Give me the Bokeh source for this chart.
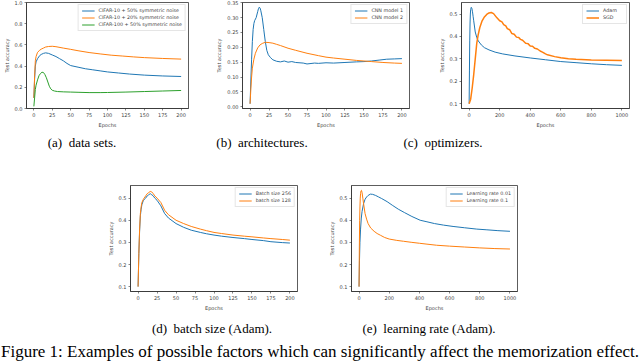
from bokeh.plotting import figure
from bokeh.models import FixedTicker, PrintfTickFormatter, Div, Spacer, Range1d
from bokeh.layouts import row, column
from bokeh.embed import file_html
from bokeh.resources import INLINE

BLUE, ORANGE, GREEN = "#1f77b4", "#ff7f0e", "#2ca02c"

# ---------------- (a) data sets ----------------
a_blue_x = [0, 1, 2, 3, 5, 8, 10, 13, 16, 20, 25, 30, 35, 40, 45, 50, 60, 70, 80, 90, 100, 115, 130, 150, 175, 200]
a_blue_y = [0.10, 0.28, 0.40, 0.44, 0.47, 0.50, 0.51, 0.52, 0.525, 0.52, 0.505, 0.49, 0.47, 0.45, 0.425, 0.405, 0.39, 0.375, 0.365, 0.355, 0.345, 0.335, 0.325, 0.315, 0.307, 0.302]
a_orange_x = [0, 1, 2, 3, 5, 8, 10, 13, 16, 20, 25, 30, 40, 50, 60, 75, 90, 105, 120, 135, 150, 175, 200]
a_orange_y = [0.10, 0.30, 0.45, 0.49, 0.53, 0.55, 0.56, 0.57, 0.58, 0.585, 0.587, 0.583, 0.57, 0.558, 0.545, 0.528, 0.515, 0.503, 0.495, 0.487, 0.48, 0.472, 0.466]
a_green_x = [0, 1, 2, 3, 5, 7, 9, 11, 13, 15, 17, 19, 21, 23, 25, 28, 32, 40, 50, 60, 75, 90, 100, 125, 150, 175, 200]
a_green_y = [0.02, 0.10, 0.18, 0.22, 0.27, 0.31, 0.33, 0.342, 0.34, 0.32, 0.29, 0.25, 0.21, 0.185, 0.172, 0.165, 0.16, 0.157, 0.155, 0.153, 0.15, 0.15, 0.151, 0.155, 0.16, 0.165, 0.17]
a_labels = ["CIFAR-10 + 50% symmetric noise", "CIFAR-10 + 20% symmetric noise", "CIFAR-100 + 50% symmetric noise"]

# ---------------- (b) architectures ----------------
b_blue_x = [0, 1, 2, 3, 4, 5, 6, 8, 10, 11, 12, 13, 14, 16, 18, 20, 22, 24, 27, 30, 35, 40, 45, 50, 55, 60, 70, 75, 85, 90, 100, 110, 125, 140, 150, 160, 170, 180, 190, 200]
b_blue_y = [0.01, 0.09, 0.16, 0.22, 0.26, 0.28, 0.29, 0.30, 0.32, 0.33, 0.335, 0.333, 0.325, 0.30, 0.26, 0.22, 0.19, 0.175, 0.165, 0.158, 0.153, 0.151, 0.154, 0.150, 0.152, 0.149, 0.147, 0.144, 0.147, 0.146, 0.148, 0.147, 0.149, 0.151, 0.152, 0.154, 0.157, 0.160, 0.161, 0.162]
b_orange_x = [0, 1, 2, 3, 5, 7, 10, 13, 16, 20, 25, 30, 35, 40, 50, 60, 75, 90, 100, 110, 125, 140, 150, 160, 175, 190, 200]
b_orange_y = [0.01, 0.06, 0.10, 0.13, 0.16, 0.18, 0.198, 0.208, 0.213, 0.217, 0.216, 0.214, 0.21, 0.206, 0.197, 0.19, 0.18, 0.172, 0.167, 0.164, 0.16, 0.156, 0.154, 0.152, 0.149, 0.147, 0.146]
b_labels = ["CNN model 1", "CNN model 2"]

# ---------------- (c) optimizers ----------------
c_adam_x = [0, 2, 4, 6, 8, 10, 14, 18, 22, 26, 30, 40, 50, 60, 80, 100, 130, 170, 220, 300, 400, 500, 600, 700, 800, 900, 1000]
c_adam_y = [0.10, 0.25, 0.38, 0.46, 0.50, 0.52, 0.53, 0.525, 0.51, 0.49, 0.47, 0.42, 0.395, 0.38, 0.362, 0.35, 0.34, 0.33, 0.322, 0.313, 0.304, 0.296, 0.288, 0.283, 0.278, 0.274, 0.271]
c_sgd_x = [0, 10, 20, 30, 40, 50, 60, 70, 85, 100, 115, 130, 145, 160, 182, 200, 215, 226, 240, 250, 265, 280, 295, 310, 325, 336, 350, 370, 385, 400, 415, 430, 447, 465, 480, 500, 513, 560, 600, 650, 700, 800, 900, 1000]
c_sgd_y = [0.10, 0.12, 0.17, 0.23, 0.30, 0.37, 0.41, 0.44, 0.47, 0.487, 0.498, 0.505, 0.507, 0.502, 0.483, 0.47, 0.465, 0.453, 0.447, 0.435, 0.43, 0.413, 0.41, 0.397, 0.395, 0.387, 0.383, 0.37, 0.368, 0.357, 0.356, 0.347, 0.344, 0.335, 0.33, 0.322, 0.318, 0.31, 0.305, 0.30, 0.298, 0.295, 0.294, 0.293]
c_labels = ["Adam", "SGD"]

# ---------------- (d) batch size ----------------
d_x = [0, 1, 2, 3, 4, 5, 7, 10, 12, 14, 16, 18, 20, 22, 25, 30, 35, 40, 50, 60, 70, 82, 90, 100, 110, 125, 140, 150, 165, 175, 190, 200]
d_blue_y = [0.10, 0.25, 0.35, 0.42, 0.45, 0.47, 0.49, 0.50, 0.51, 0.515, 0.52, 0.515, 0.51, 0.50, 0.49, 0.465, 0.43, 0.41, 0.385, 0.368, 0.355, 0.345, 0.339, 0.333, 0.328, 0.322, 0.317, 0.313, 0.308, 0.303, 0.299, 0.297]
d_orange_y = [0.10, 0.25, 0.36, 0.43, 0.46, 0.48, 0.495, 0.51, 0.52, 0.525, 0.53, 0.528, 0.52, 0.51, 0.50, 0.48, 0.445, 0.425, 0.40, 0.385, 0.372, 0.36, 0.353, 0.345, 0.34, 0.333, 0.328, 0.325, 0.32, 0.317, 0.313, 0.31]
d_labels = ["Batch size 256", "batch size 128"]

# ---------------- (e) learning rate ----------------
e_blue_x = [0, 3, 6, 10, 15, 20, 30, 40, 50, 60, 75, 90, 110, 130, 150, 186, 220, 260, 300, 350, 405, 450, 500, 560, 623, 700, 780, 842, 920, 1000]
e_blue_y = [0.10, 0.22, 0.30, 0.36, 0.41, 0.44, 0.475, 0.495, 0.505, 0.512, 0.518, 0.517, 0.512, 0.505, 0.498, 0.484, 0.468, 0.45, 0.435, 0.417, 0.40, 0.393, 0.385, 0.378, 0.372, 0.366, 0.36, 0.357, 0.353, 0.35]
e_orange_x = [0, 2, 4, 6, 8, 10, 13, 16, 20, 25, 30, 40, 50, 60, 77, 100, 120, 142, 170, 200, 250, 295, 350, 400, 450, 514, 600, 700, 800, 900, 1000]
e_orange_y = [0.10, 0.28, 0.40, 0.46, 0.50, 0.52, 0.533, 0.535, 0.525, 0.50, 0.475, 0.43, 0.405, 0.385, 0.365, 0.35, 0.34, 0.332, 0.322, 0.315, 0.309, 0.305, 0.30, 0.296, 0.292, 0.287, 0.283, 0.279, 0.275, 0.272, 0.27]
e_labels = ["Learning rate 0.01", "Learning rate 0.1"]

ticks200 = [0, 25, 50, 75, 100, 125, 150, 175, 200]
ticks1000 = [0, 200, 400, 600, 800, 1000]

captions_top = ["(a)&nbsp; data sets.", "(b)&nbsp; architectures.", "(c)&nbsp; optimizers."]
captions_bottom = ["(d)&nbsp; batch size (Adam).", "(e)&nbsp; learning rate (Adam)."]
fig_caption = "Figure 1: Examples of possible factors which can significantly affect the memorization effect."

TICKFONT = "DejaVu Sans"


def make_fig(xr, yr, xticks, yticks, yfmt, w, h, bl, br, bt, bb):
    p = figure(width=w, height=h,
               min_border_left=bl, min_border_right=br, min_border_top=bt, min_border_bottom=bb,
               x_range=Range1d(*xr), y_range=Range1d(*yr),
               output_backend="svg", toolbar_location=None)
    p.xgrid.visible = False
    p.ygrid.visible = False
    p.outline_line_color = "#333333"
    p.outline_line_width = 0.8
    p.background_fill_color = "white"
    p.border_fill_color = "white"
    for ax in (p.xaxis[0], p.yaxis[0]):
        ax.axis_line_color = "#333333"
        ax.axis_line_width = 0.8
        ax.major_tick_out = 2
        ax.major_tick_in = 0
        ax.major_tick_line_color = "#333333"
        ax.major_tick_line_width = 0.6
        ax.minor_tick_line_color = None
        ax.major_label_text_font = TICKFONT
        ax.major_label_text_font_size = "5px"
        ax.major_label_text_color = "#444444"
        ax.major_label_standoff = 2
        ax.axis_label_text_font = TICKFONT
        ax.axis_label_text_font_size = "5px"
        ax.axis_label_text_font_style = "normal"
        ax.axis_label_text_color = "#444444"
        ax.axis_label_standoff = 2
    p.xaxis.ticker = FixedTicker(ticks=xticks)
    p.yaxis.ticker = FixedTicker(ticks=yticks)
    p.yaxis.formatter = PrintfTickFormatter(format=yfmt)
    p.xaxis.axis_label = "Epochs"
    p.yaxis.axis_label = "Test accuracy"
    return p


def style_legend(p):
    lg = p.legend[0]
    lg.location = "top_right"
    lg.margin = 2
    lg.padding = 3
    lg.spacing = 2
    lg.label_height = 5
    lg.glyph_height = 5
    lg.glyph_width = 13
    lg.label_standoff = 4
    lg.label_text_font = TICKFONT
    lg.label_text_font_size = "4.8px"
    lg.label_text_color = "#444444"
    lg.border_line_color = "#cccccc"
    lg.border_line_width = 0.8
    lg.background_fill_alpha = 1.0


# (a)
pa = make_fig((-10, 210), (0, 1.0), ticks200, [0, 0.2, 0.4, 0.6, 0.8, 1.0], "%.1f", 212, 130, 23, 24, 2, 20)
pa.line(a_blue_x, a_blue_y, color=BLUE, line_width=1, legend_label=a_labels[0])
pa.line(a_orange_x, a_orange_y, color=ORANGE, line_width=1, legend_label=a_labels[1])
pa.line(a_green_x, a_green_y, color=GREEN, line_width=1, legend_label=a_labels[2])
style_legend(pa)

# (b)
pb = make_fig((-10, 210), (-0.006, 0.351), ticks200, [0, 0.05, 0.10, 0.15, 0.20, 0.25, 0.30, 0.35], "%.2f", 218, 130, 30, 21, 2, 20)
pb.line(b_blue_x, b_blue_y, color=BLUE, line_width=1, legend_label=b_labels[0])
pb.line(b_orange_x, b_orange_y, color=ORANGE, line_width=1, legend_label=b_labels[1])
style_legend(pb)

# (c)
pc = make_fig((-50, 1050), (0.0785, 0.5515), ticks1000, [0.1, 0.2, 0.3, 0.4, 0.5], "%.1f", 210, 130, 31, 11, 2, 20)
pc.line(c_adam_x, c_adam_y, color=BLUE, line_width=1, legend_label=c_labels[0])
pc.line(c_sgd_x, c_sgd_y, color=ORANGE, line_width=1.5, legend_label=c_labels[1])
style_legend(pc)

# (d)
pd_ = make_fig((-10, 210), (0.078, 0.557), ticks200, [0.1, 0.2, 0.3, 0.4, 0.5], "%.1f", 220, 133, 30, 23, 5, 20)
pd_.line(d_x, d_blue_y, color=BLUE, line_width=1, legend_label=d_labels[0])
pd_.line(d_x, d_orange_y, color=ORANGE, line_width=1, legend_label=d_labels[1])
style_legend(pd_)

# (e)
pe = make_fig((-50, 1050), (0.078, 0.557), ticks1000, [0.1, 0.2, 0.3, 0.4, 0.5], "%.1f", 220, 133, 31, 23, 5, 20)
pe.line(e_blue_x, e_blue_y, color=BLUE, line_width=1, legend_label=e_labels[0])
pe.line(e_orange_x, e_orange_y, color=ORANGE, line_width=1, legend_label=e_labels[1])
style_legend(pe)


def cap(text, w, h, pad, size):
    html = ('<div style="padding-top:%dpx;font-family:\'Liberation Serif\',serif;'
            'font-size:%spx;color:#000;white-space:nowrap;line-height:1.1;">%s</div>' % (pad, size, text))
    return Div(text=html, width=w, height=h, margin=0, styles={"text-align": "center"})


row1 = row(pa, pb, pc)
caprow1 = row(cap(captions_top[0], 164, 50, 6, 13), cap(captions_top[1], 196, 50, 6, 13),
              cap(captions_top[2], 166, 50, 6, 13), Spacer(width=114, height=50))
row2 = row(Spacer(width=100, height=133), pd_, pe, Spacer(width=100, height=133))
caprow2 = row(Spacer(width=100, height=27), cap(captions_bottom[0], 224, 27, 9, 13),
              cap(captions_bottom[1], 210, 27, 9, 13), Spacer(width=106, height=27))
figcap = row(cap(fig_caption, 640, 22, 3, 17))

root = column(row1, caprow1, row2, caprow2, figcap)

open("out.html", "w").write(file_html(root, INLINE))
